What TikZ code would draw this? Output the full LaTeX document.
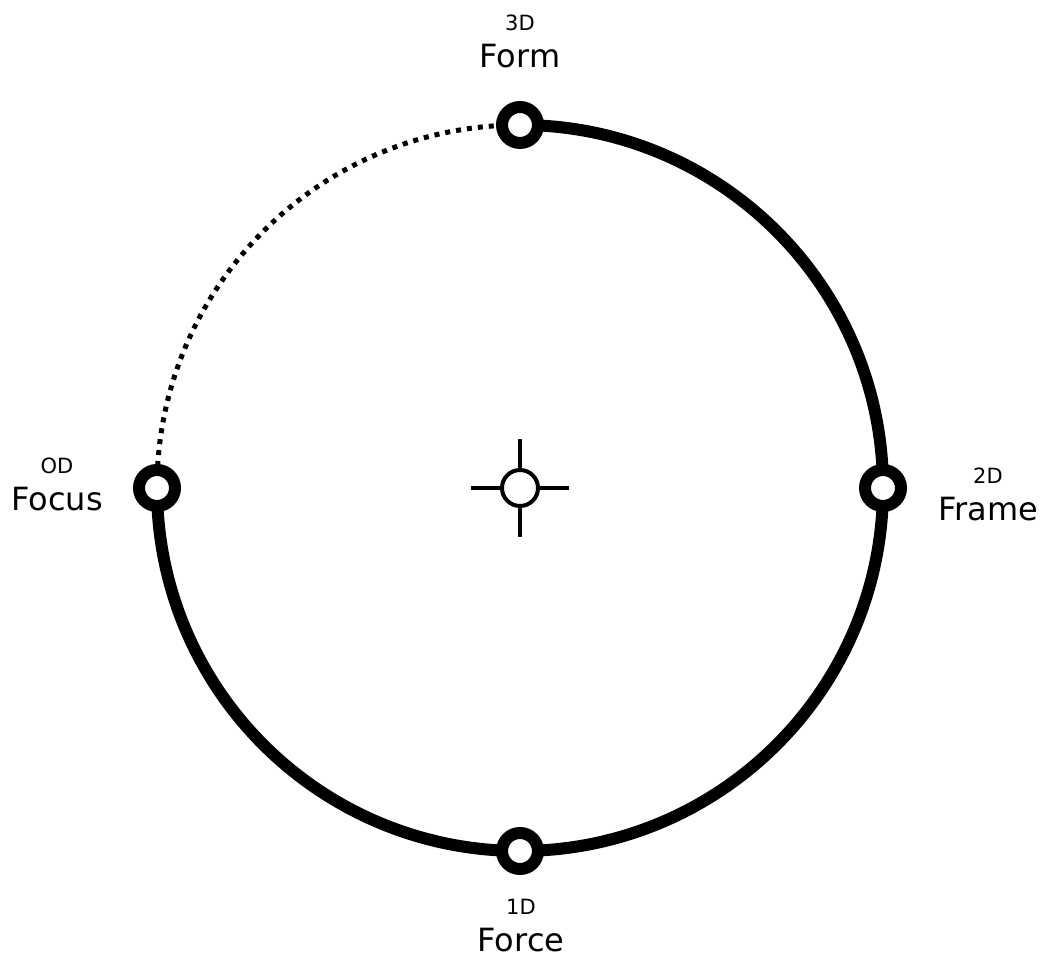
\documentclass[tikz,border=0pt]{standalone}
\usepackage{fontspec}
\setmainfont{DejaVu Sans}
\usetikzlibrary{backgrounds}

\tikzset{
  station/.style={circle, draw, fill=white, line width=12pt, minimum size=36pt, inner sep=0pt},
  hubring/.style={circle, draw, fill=white, line width=4pt, minimum size=36pt, inner sep=0pt},
  biglabel/.style={anchor=base, font=\fontsize{32}{38}\selectfont},
  dimlabel/.style={anchor=base, font=\fontsize{21}{25}\selectfont},
  rim/.style={line width=12pt},
  rimdotted/.style={line width=5pt, dash pattern=on 5pt off 6pt},
  crossarm/.style={line width=4pt},
}

\begin{document}
\begin{tikzpicture}[x=1pt,y=1pt]
    \useasboundingbox (0,0) rectangle (1045,960);
    \coordinate (mid) at (520,472);
    \node[hubring] (hub) at (mid) {};
    \foreach \nm/\ang in {form/90, frame/0, force/-90, focus/180}{
        \node[station] (\nm) at ([shift={(\ang:363pt)}]mid) {};
    }
    \foreach \nm/\lx/\ly/\lbl/\dimtxt in {form/520/892/Form/3D, frame/988/439/Frame/2D,
        force/521/8/Force/1D, focus/57/449/Focus/OD}{
        \node[biglabel] (\nm-name) at (\lx,\ly) {\lbl};
        \node[dimlabel] (\nm-dim) at ([yshift=37pt]\nm-name.base) {\dimtxt};
    }
    \begin{scope}[on background layer]
        \draw[rim] (form.center) arc[start angle=90, end angle=-180, radius=363pt];
        \draw[rimdotted] (focus.center) arc[start angle=180, end angle=90, radius=363pt];
        \draw[crossarm] ([xshift=-49pt]hub.center) -- ([xshift=49pt]hub.center);
        \draw[crossarm] ([yshift=-49pt]hub.center) -- ([yshift=49pt]hub.center);
    \end{scope}
\end{tikzpicture}
\end{document}
